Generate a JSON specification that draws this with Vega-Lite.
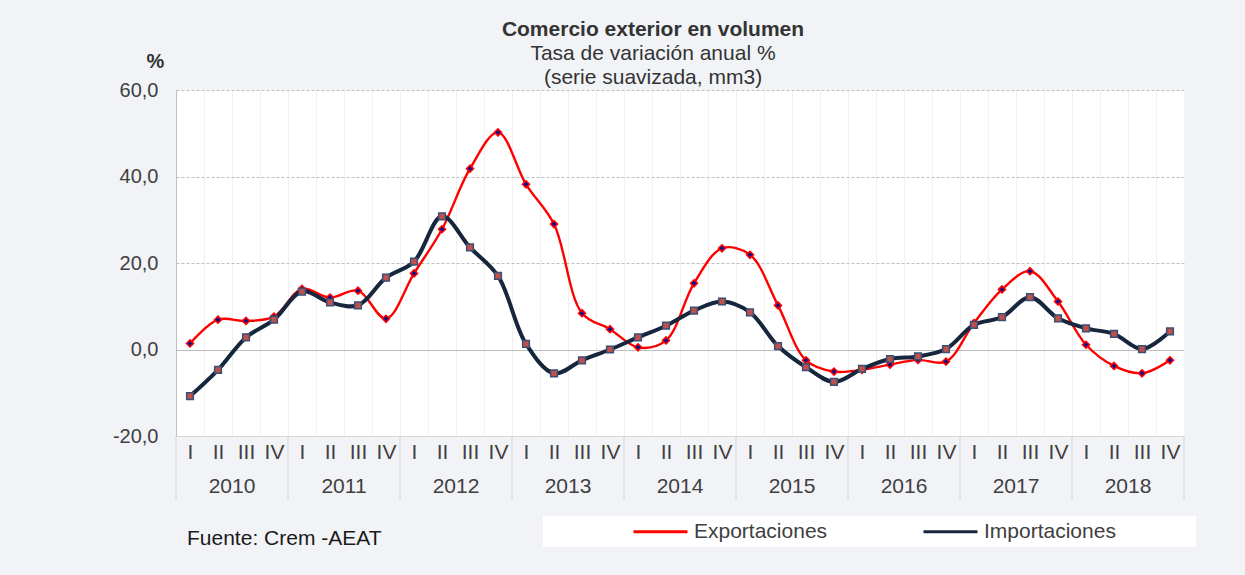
{
  "$schema": "https://vega.github.io/schema/vega-lite/v6.json",
  "width": 1008,
  "height": 346,
  "autosize": {"type": "none"},
  "padding": {"left": 176, "top": 90, "right": 61, "bottom": 139},
  "background": "#f2f3f7",
  "config": {"font": "Liberation Sans", "view": {"fill": "#ffffff", "stroke": null}, "axisX": {"labelOverlap": false, "labelFlush": false}},
  "title": {
    "text": "Comercio exterior en volumen",
    "subtitle": ["Tasa de variación anual %", "(serie suavizada, mm3)"],
    "anchor": "middle",
    "dx": -27,
    "fontSize": 21,
    "fontWeight": "bold",
    "color": "#333333",
    "subtitleFontSize": 21,
    "subtitleColor": "#333333",
    "subtitlePadding": 3,
    "subtitleLineHeight": 24,
    "offset": -37
  },
  "datasets": {
    "d": [
      {"i":0,"s":"Exportaciones","v":1.4},{"i":1,"s":"Exportaciones","v":6.9},{"i":2,"s":"Exportaciones","v":6.6},{"i":3,"s":"Exportaciones","v":7.6},
      {"i":4,"s":"Exportaciones","v":14.0},{"i":5,"s":"Exportaciones","v":12.0},{"i":6,"s":"Exportaciones","v":13.6},{"i":7,"s":"Exportaciones","v":7.1},
      {"i":8,"s":"Exportaciones","v":17.6},{"i":9,"s":"Exportaciones","v":27.8},{"i":10,"s":"Exportaciones","v":41.8},{"i":11,"s":"Exportaciones","v":50.2},
      {"i":12,"s":"Exportaciones","v":38.2},{"i":13,"s":"Exportaciones","v":29.0},{"i":14,"s":"Exportaciones","v":8.4},{"i":15,"s":"Exportaciones","v":4.7},
      {"i":16,"s":"Exportaciones","v":0.5},{"i":17,"s":"Exportaciones","v":2.1},{"i":18,"s":"Exportaciones","v":15.3},{"i":19,"s":"Exportaciones","v":23.4},
      {"i":20,"s":"Exportaciones","v":21.9},{"i":21,"s":"Exportaciones","v":10.2},{"i":22,"s":"Exportaciones","v":-2.5},{"i":23,"s":"Exportaciones","v":-5.1},
      {"i":24,"s":"Exportaciones","v":-4.7},{"i":25,"s":"Exportaciones","v":-3.5},{"i":26,"s":"Exportaciones","v":-2.4},{"i":27,"s":"Exportaciones","v":-2.8},
      {"i":28,"s":"Exportaciones","v":6.1},{"i":29,"s":"Exportaciones","v":13.9},{"i":30,"s":"Exportaciones","v":18.1},{"i":31,"s":"Exportaciones","v":11.1},
      {"i":32,"s":"Exportaciones","v":1.1},{"i":33,"s":"Exportaciones","v":-3.8},{"i":34,"s":"Exportaciones","v":-5.5},{"i":35,"s":"Exportaciones","v":-2.5},
      {"i":0,"s":"Importaciones","v":-10.8},{"i":1,"s":"Importaciones","v":-4.7},{"i":2,"s":"Importaciones","v":2.8},{"i":3,"s":"Importaciones","v":6.9},
      {"i":4,"s":"Importaciones","v":13.4},{"i":5,"s":"Importaciones","v":10.9},{"i":6,"s":"Importaciones","v":10.2},{"i":7,"s":"Importaciones","v":16.6},
      {"i":8,"s":"Importaciones","v":20.3},{"i":9,"s":"Importaciones","v":30.8},{"i":10,"s":"Importaciones","v":23.6},{"i":11,"s":"Importaciones","v":17.0},
      {"i":12,"s":"Importaciones","v":1.3},{"i":13,"s":"Importaciones","v":-5.5},{"i":14,"s":"Importaciones","v":-2.5},{"i":15,"s":"Importaciones","v":0.0},
      {"i":16,"s":"Importaciones","v":2.8},{"i":17,"s":"Importaciones","v":5.5},{"i":18,"s":"Importaciones","v":9.0},{"i":19,"s":"Importaciones","v":11.1},
      {"i":20,"s":"Importaciones","v":8.6},{"i":21,"s":"Importaciones","v":0.8},{"i":22,"s":"Importaciones","v":-4.1},{"i":23,"s":"Importaciones","v":-7.5},
      {"i":24,"s":"Importaciones","v":-4.5},{"i":25,"s":"Importaciones","v":-2.2},{"i":26,"s":"Importaciones","v":-1.6},{"i":27,"s":"Importaciones","v":0.1},
      {"i":28,"s":"Importaciones","v":5.7},{"i":29,"s":"Importaciones","v":7.5},{"i":30,"s":"Importaciones","v":12.1},{"i":31,"s":"Importaciones","v":7.2},
      {"i":32,"s":"Importaciones","v":4.9},{"i":33,"s":"Importaciones","v":3.6},{"i":34,"s":"Importaciones","v":0.1},{"i":35,"s":"Importaciones","v":4.2}
    ],
    "years": [
      {"yr":"2010","i":1.5},{"yr":"2011","i":5.5},{"yr":"2012","i":9.5},{"yr":"2013","i":13.5},{"yr":"2014","i":17.5},
      {"yr":"2015","i":21.5},{"yr":"2016","i":25.5},{"yr":"2017","i":29.5},{"yr":"2018","i":33.5}
    ],
    "bounds": [
      {"i":-0.5},{"i":3.5},{"i":7.5},{"i":11.5},{"i":15.5},{"i":19.5},{"i":23.5},{"i":27.5},{"i":31.5},{"i":35.5}
    ],
    "src": [{"t":"Fuente: Crem -AEAT","i":-0.107}]
  },
  "encoding": {
    "x": {
      "field": "i", "type": "quantitative",
      "scale": {"domain": [-0.5, 35.5], "nice": false, "zero": false},
      "axis": {
        "title": null,
        "values": [-0.5,0.5,1.5,2.5,3.5,4.5,5.5,6.5,7.5,8.5,9.5,10.5,11.5,12.5,13.5,14.5,15.5,16.5,17.5,18.5,19.5,20.5,21.5,22.5,23.5,24.5,25.5,26.5,27.5,28.5,29.5,30.5,31.5,32.5,33.5,34.5],
        "labelExpr": "['I','II','III','IV'][(datum.value + 0.5) % 4]",
        "labelOffset": 14,
        "labelPadding": 5,
        "labelOverlap": false,
        "labelFlush": false,
        "labelFontSize": 21,
        "labelColor": "#404040",
        "ticks": false,
        "domainColor": "#d9d9d9",
        "grid": true,
        "gridColor": "#f0f0f0"
      }
    }
  },
  "layer": [
    {
      "data": {"name": "d"},
      "transform": [{"filter": "datum.s === 'Exportaciones'"}],
      "mark": {"type": "line", "interpolate": "catmull-rom", "strokeWidth": 2.4},
      "encoding": {
        "y": {
          "field": "v", "type": "quantitative",
          "scale": {"domain": [-20, 60], "nice": false, "zero": false},
          "axis": {
            "values": [-20, 0, 20, 40, 60],
            "labelExpr": "(datum.value < 0 ? '-' : '') + replace(format(abs(datum.value), '.1f'), '.', ',')",
            "labelFontSize": 20,
            "labelColor": "#404040",
            "labelPadding": 18,
            "ticks": false,
            "domainColor": "#bfbfbf",
            "gridColor": "#bfbfbf",
            "gridDash": {"condition": {"test": "datum.value === 0", "value": []}, "value": [3, 2]},
            "title": "%",
            "titleAngle": 0,
            "titleFontSize": 20,
            "titleFontWeight": "bold",
            "titleColor": "#333333",
            "titleX": -21,
            "titleY": -23,
            "titleAlign": "center",
            "titleBaseline": "alphabetic"
          }
        },
        "color": {
          "field": "s", "type": "nominal",
          "scale": {"domain": ["Exportaciones", "Importaciones"], "range": ["#ff0000", "#16263d"]},
          "legend": {
            "orient": "none",
            "legendX": 367,
            "legendY": 426,
            "direction": "horizontal",
            "title": " ",
            "titleOrient": "left",
            "titlePadding": 84,
            "titleFontSize": 20,
            "fillColor": "#ffffff",
            "padding": 5,
            "symbolType": "M-3,0H3",
            "symbolSize": 324,
            "symbolStrokeWidth": 3,
            "symbolOffset": 18,
            "labelFontSize": 21,
            "labelColor": "#404040",
            "labelOffset": 23,
            "columnPadding": 89,
            "labelLimit": 400,
            "labelExpr": "datum.label === 'Importaciones' ? datum.label + '\u2800\u2800\u2800\u2800\u2800' : datum.label"
          }
        }
      }
    },
    {
      "data": {"name": "d"},
      "transform": [{"filter": "datum.s === 'Importaciones'"}],
      "mark": {"type": "line", "interpolate": "catmull-rom", "strokeWidth": 4},
      "encoding": {
        "y": {"field": "v", "type": "quantitative", "scale": {"domain": [-20, 60], "nice": false, "zero": false}},
        "color": {"field": "s", "type": "nominal"}
      }
    },
    {
      "data": {"name": "d"},
      "transform": [{"filter": "datum.s === 'Exportaciones'"}],
      "mark": {"type": "point", "shape": "diamond", "filled": true, "fill": "#10108a", "stroke": "#ff0000", "strokeWidth": 1.5, "size": 50, "opacity": 1},
      "encoding": {
        "y": {"field": "v", "type": "quantitative", "scale": {"domain": [-20, 60], "nice": false, "zero": false}}
      }
    },
    {
      "data": {"name": "d"},
      "transform": [{"filter": "datum.s === 'Importaciones'"}],
      "mark": {"type": "point", "shape": "square", "filled": true, "fill": "#c0504d", "stroke": "#3a4f73", "strokeWidth": 1.5, "size": 45, "opacity": 1},
      "encoding": {
        "y": {"field": "v", "type": "quantitative", "scale": {"domain": [-20, 60], "nice": false, "zero": false}}
      }
    },
    {
      "data": {"name": "years"},
      "mark": {"type": "text", "fontSize": 21, "color": "#404040", "baseline": "middle", "align": "center"},
      "encoding": {
        "y": {"datum": -31.9, "type": "quantitative", "scale": {"domain": [-20, 60], "nice": false, "zero": false}},
        "text": {"field": "yr"}
      }
    },
    {
      "data": {"name": "bounds"},
      "mark": {"type": "rule", "color": "#d4d4d4", "strokeWidth": 1},
      "encoding": {
        "y": {"datum": -20, "type": "quantitative", "scale": {"domain": [-20, 60], "nice": false, "zero": false}},
        "y2": {"datum": -34.8}
      }
    },
    {
      "data": {"name": "src"},
      "mark": {"type": "text", "fontSize": 21, "color": "#1a1a1a", "baseline": "middle", "align": "left"},
      "encoding": {
        "y": {"datum": -43.7, "type": "quantitative", "scale": {"domain": [-20, 60], "nice": false, "zero": false}},
        "text": {"field": "t"}
      }
    }
  ]
}
